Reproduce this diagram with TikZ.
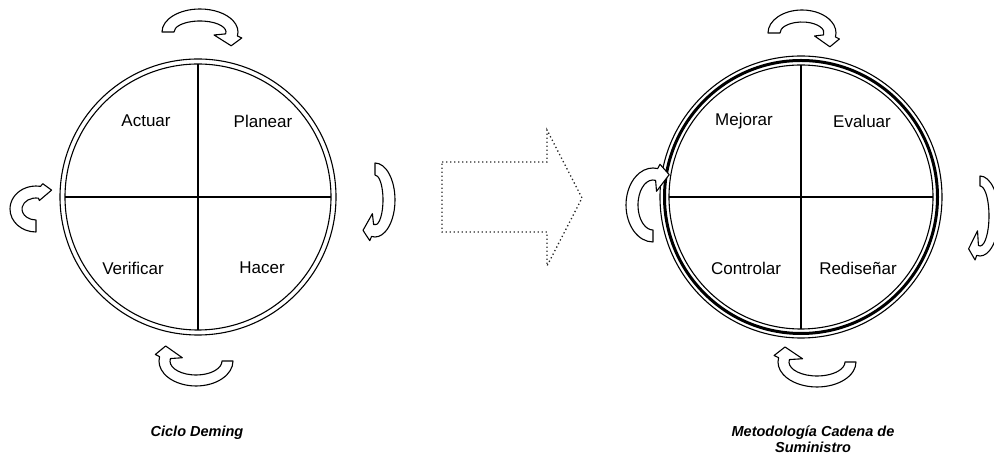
\documentclass[tikz,border=0pt]{standalone}
\usepackage{fontspec}
\setmainfont{Liberation Sans}
% Curved block arrow: centre x, centre y, rotation, outer x radius, outer y radius, band width
\newcommand\cyclearrow[6]{%
  \begin{scope}[shift={(#1,#2)},rotate=#3]
    \pgfmathsetmacro\carx{#4}
    \pgfmathsetmacro\cary{#5}
    \pgfmathsetmacro\cbrx{#4-#6}
    \pgfmathsetmacro\cbry{#5-#6}
    \draw[band] (-\carx,0)
      arc[start angle=180,end angle=-10,x radius=\carx,y radius=\cary]
      -- ({1.1*\carx},{-0.26*\cary})
      -- ({0.82*\carx},{-0.6*\cary})
      -- ({0.37*\carx},{-0.13*\cary})
      -- ({\cbrx*cos(-10)},{\cbry*sin(-10)})
      arc[start angle=-10,end angle=180,x radius=\cbrx,y radius=\cbry]
      -- cycle;
  \end{scope}}
\begin{document}
\begin{tikzpicture}[x=1pt,y=1pt,
  lbl/.style={font=\fontsize{17}{20}\selectfont},
  titlelbl/.style={font=\fontsize{14.5}{16}\selectfont\bfseries\itshape,align=center},
  ring/.style={line width=1.1pt},
  thickring/.style={line width=3pt},
  band/.style={draw=black,fill=white,line width=1.1pt,line join=round},
  dotarrow/.style={draw=black!85,line width=1.3pt,dash pattern=on 1.3pt off 2.7pt}]
\useasboundingbox (0,0) rectangle (994,465);

% ---- Deming cycle ----
\draw[ring] (198,268) circle (138);
\draw[ring] (198,268) circle (133);
\draw[ring] (65,268) -- (331,268);
\draw[ring] (198,135) -- (198,401);
\node[lbl] (actuar)    at (146,344) {Actuar};
\node[lbl] (planear)   at (263,344) {Planear};
\node[lbl] (verificar) at (133,197) {Verificar};
\node[lbl] (hacer)     at (262,197) {Hacer};
\cyclearrow{200}{433}{0}{38}{23}{12}
\cyclearrow{375}{265}{-90}{37}{20}{12}
\cyclearrow{196}{104}{180}{37}{25}{11}
\cyclearrow{36}{256}{90}{23}{26}{12}
\node[titlelbl] (ciclo) at (197,32) {Ciclo Deming};

% ---- transition arrow ----
\draw[dotarrow] (442,303) -- (547,303) -- (547,335) -- (582,267)
  -- (547,199) -- (547,233) -- (442,233) -- cycle;

% ---- supply chain methodology ----
\draw[ring] (801,268) circle (141);
\draw[thickring] (801,268) circle (136.5);
\draw[ring] (801,268) circle (132);
\draw[ring] (669,268) -- (933,268);
\draw[ring] (801,136) -- (801,400);
\node[lbl] (mejorar)    at (744,344) {Mejorar};
\node[lbl] (evaluar)    at (862,344) {Evaluar};
\node[lbl] (controlar)  at (746,197) {Controlar};
\node[lbl] (redisenar)  at (858,197) {Rediseñar};
\cyclearrow{802}{432}{0}{34}{23}{12}
\cyclearrow{980}{249}{-90}{40}{19}{10}
\cyclearrow{817}{103}{180}{39}{25}{11}
\cyclearrow{653}{260}{90}{37}{27}{12}
\node[titlelbl] (metodo) at (813,26) {Metodología Cadena de\\Suministro};
\end{tikzpicture}
\end{document}
